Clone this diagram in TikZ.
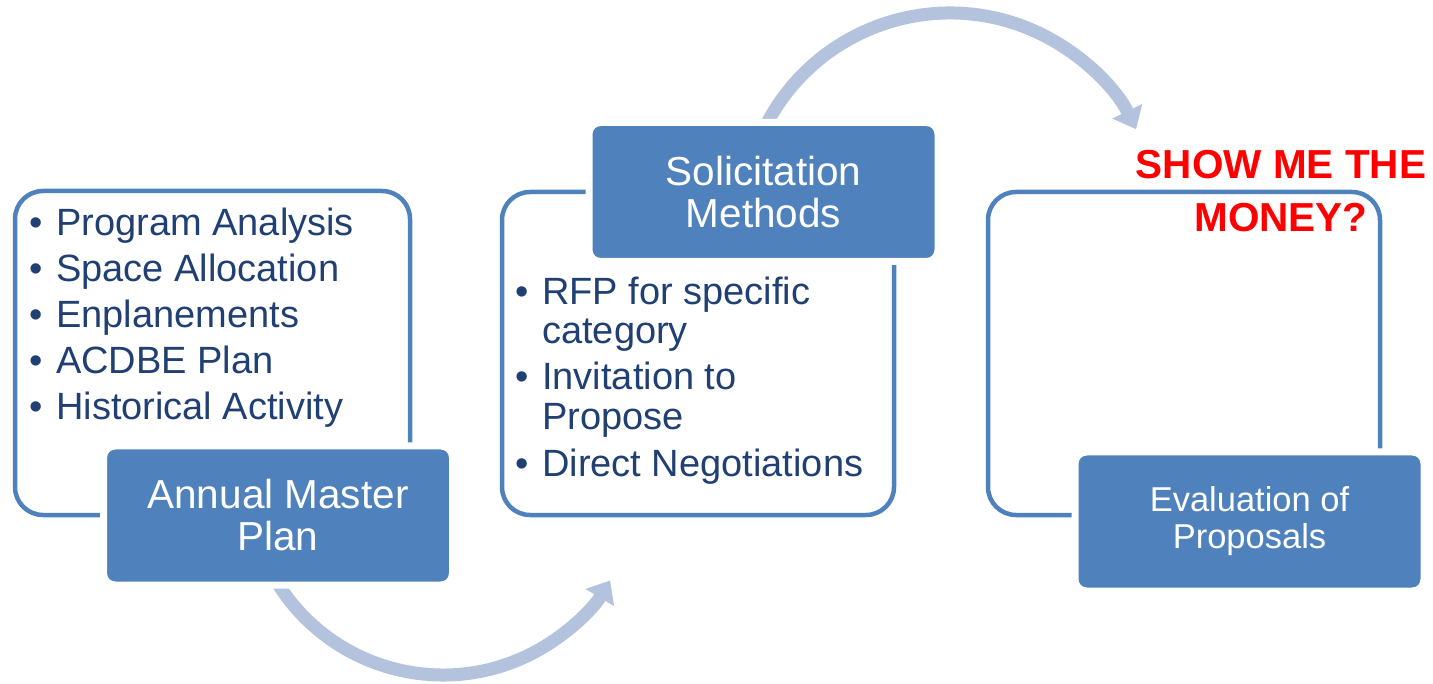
\documentclass[tikz,border=0pt]{standalone}
\usepackage{fontspec}
\setmainfont{Liberation Sans}
\usetikzlibrary{arrows.meta}
\definecolor{boxblue}{HTML}{4F81BD}
\definecolor{arrowblue}{HTML}{B3C3DE}
\definecolor{navy}{HTML}{203F73}
\definecolor{alertred}{HTML}{FF0000}
\tikzset{
  outlinebox/.style={draw=boxblue, line width=4.5pt, rounded corners=28pt},
  filledbox/.style={fill=boxblue, draw=white, line width=7pt, rounded corners=11.5pt,
    minimum width=349pt, minimum height=139pt, inner sep=0pt, text=white, align=center},
  bigtext/.style={font=\fontsize{40.5}{42}\selectfont},
  smalltext/.style={font=\fontsize{34.5}{37}\selectfont},
  itemtext/.style={anchor=base west, inner sep=0pt, text=navy, font=\fontsize{38}{46}\selectfont},
  bulletmark/.style={anchor=base, inner sep=0pt, text=navy, font=\fontsize{38}{46}\selectfont},
  cyclearrow/.style={draw=arrowblue, line width=13pt, -{Triangle[length=20pt,width=32pt]}},
  redtext/.style={text=alertred, align=center, inner sep=0pt, font=\fontsize{40.5}{53}\selectfont\bfseries}
}
\begin{document}
\begin{tikzpicture}[x=1pt, y=-1pt]
\useasboundingbox (0,0) rectangle (1433,684);

% cycle arrows
\coordinate (c1) at (443,480);
\coordinate (c2) at (950,220);
\draw[cyclearrow] ([shift={(150:195)}]c1) arc[start angle=150, end angle=31, radius=195];
\draw[cyclearrow] ([shift={(-153:207)}]c2) arc[start angle=-153, end angle=-26, radius=207];

% outline boxes
\draw[outlinebox] (15,191) rectangle (410,515);
\draw[outlinebox] (502,192) rectangle (894,515);
\draw[outlinebox] (988,192) rectangle (1380,515);

% filled boxes
\node[filledbox, bigtext] (amp) at (278,515.5) {Annual Master\\Plan};
\node[filledbox, bigtext] (sm) at (763.5,192) {Solicitation\\Methods};
\node[filledbox, smalltext] (ep) at (1249.5,521.5) {Evaluation of\\Proposals};

% list 1
\node[bulletmark] (b11) at (36,236) {•};
\node[itemtext] (t11) at (56,236) {Program Analysis};
\node[bulletmark] (b12) at (36,282) {•};
\node[itemtext] (t12) at (56,282) {Space Allocation};
\node[bulletmark] (b13) at (36,328) {•};
\node[itemtext] (t13) at (56,328) {Enplanements};
\node[bulletmark] (b14) at (36,374) {•};
\node[itemtext] (t14) at (56,374) {ACDBE Plan};
\node[bulletmark] (b15) at (36,420) {•};
\node[itemtext] (t15) at (56,420) {Historical Activity};

% list 2
\node[bulletmark] (b21) at (522.5,305) {•};
\node[itemtext] (t21) at (542,305) {RFP for specific};
\node[itemtext] (t21b) at (542,344) {category};
\node[bulletmark] (b22) at (522.5,390) {•};
\node[itemtext] (t22) at (542,390) {Invitation to};
\node[itemtext] (t22b) at (542,430) {Propose};
\node[bulletmark] (b23) at (522.5,477) {•};
\node[itemtext] (t23) at (542,477) {Direct Negotiations};

% red note
\node[redtext] (money) at (1281,191) {SHOW ME THE\\MONEY?};
\end{tikzpicture}
\end{document}
